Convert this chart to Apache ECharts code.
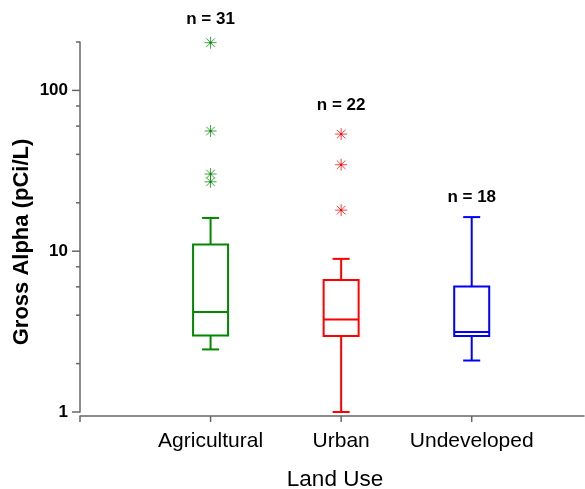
<!DOCTYPE html>
<html><head><meta charset="utf-8">
<script src="https://cdn.jsdelivr.net/npm/echarts@6/dist/echarts.min.js"></script>
<style>html,body{margin:0;padding:0;background:#fff}#c{width:585px;height:489px}</style>
</head><body><div id="c"></div>
<script>
// ---- data ----
const categories = ['Agricultural', 'Urban', 'Undeveloped'];
const sampleCounts = [31, 22, 18];
const whiskerLow = [2.45, 1.0, 2.09];
const quartile1 = [2.99, 2.97, 2.97];
const medians = [4.18, 3.76, 3.14];
const quartile3 = [11.0, 6.63, 6.03];
const whiskerHigh = [16.1, 8.96, 16.3];
const outliers = [[198, 55.9, 30.2, 27.0], [53.5, 34.5, 18.0], []];
const yMajorTicks = [1, 10, 100];
const yMinorTicks = [2, 4, 6, 8, 20, 40, 60, 80, 200];
const xTickValues = [0, 1, 2, 3];

// ---- style ----
const FONT = '"Liberation Sans", Arial, sans-serif';
const colors = ['#008800', '#ff0000', '#0000ff'];
const boxWidth = 35, capWidth = 17;
const labelOffsets = [-23, -29, -20];
const axisColor = '#666';

const boxData = categories.map((c, i) => [i + 1, whiskerLow[i], quartile1[i], medians[i], quartile3[i], whiskerHigh[i], i]);
const outlierData = [];
outliers.forEach((arr, i) => arr.forEach(v => outlierData.push([i + 1, v, i])));

function renderBox(params, api) {
  const xv = api.value(0), i = api.value(6);
  const col = colors[i];
  const x = api.coord([xv, 1])[0];
  const y = k => api.coord([xv, api.value(k)])[1];
  const yLo = y(1), yQ1 = y(2), yMed = y(3), yQ3 = y(4), yHi = y(5);
  const st = {stroke: col, lineWidth: 2, fill: null};
  const hw = boxWidth / 2, cw = capWidth / 2;
  let topV = whiskerHigh[i];
  outliers[i].forEach(v => { if (v > topV) topV = v; });
  const yTop = api.coord([xv, topV])[1];
  return {type: 'group', children: [
    {type: 'rect', shape: {x: x - hw, y: yQ3, width: boxWidth, height: yQ1 - yQ3}, style: {stroke: col, lineWidth: 2, fill: 'rgba(0,0,0,0)'}},
    {type: 'line', shape: {x1: x - hw, y1: yMed, x2: x + hw, y2: yMed}, style: st},
    {type: 'line', shape: {x1: x, y1: yQ3, x2: x, y2: yHi}, style: st},
    {type: 'line', shape: {x1: x, y1: yQ1, x2: x, y2: yLo}, style: st},
    {type: 'line', shape: {x1: x - cw, y1: yHi, x2: x + cw, y2: yHi}, style: st},
    {type: 'line', shape: {x1: x - cw, y1: yLo, x2: x + cw, y2: yLo}, style: st},
    {type: 'text', style: {text: 'n = ' + sampleCounts[i], x: x, y: yTop + labelOffsets[i], align: 'center', verticalAlign: 'middle',
      font: 'bold 17px ' + FONT, fill: '#000'}}
  ]};
}

function renderOutlier(params, api) {
  const p = api.coord([api.value(0), api.value(1)]);
  const col = colors[api.value(2)];
  const r = 6, d = 4.3;
  const st = {stroke: col, lineWidth: 1, opacity: 0.75};
  return {type: 'group', children: [
    {type: 'line', shape: {x1: p[0] - r, y1: p[1], x2: p[0] + r, y2: p[1]}, style: st},
    {type: 'line', shape: {x1: p[0], y1: p[1] - r, x2: p[0], y2: p[1] + r}, style: st},
    {type: 'line', shape: {x1: p[0] - d, y1: p[1] - d, x2: p[0] + d, y2: p[1] + d}, style: st},
    {type: 'line', shape: {x1: p[0] - d, y1: p[1] + d, x2: p[0] + d, y2: p[1] - d}, style: st},
    {type: 'rect', shape: {x: p[0] - 1, y: p[1] - 1, width: 2, height: 2}, style: {fill: col}}
  ]};
}

function yTickRenderer(len) {
  return function (params, api) {
    const p = api.coord([0, api.value(0)]);
    return {type: 'line', shape: {x1: p[0] - len, y1: p[1], x2: p[0], y2: p[1]}, style: {stroke: axisColor, lineWidth: 1.5}};
  };
}
function renderXTick(params, api) {
  const p = api.coord([api.value(0), 1]);
  return {type: 'line', shape: {x1: p[0], y1: p[1] + 4, x2: p[0], y2: p[1] + 10}, style: {stroke: axisColor, lineWidth: 1.5}};
}

const chart = echarts.init(document.getElementById('c'), null, {renderer: 'canvas'});
chart.setOption({
  animation: false,
  backgroundColor: '#fff',
  grid: {left: 80, right: 1, top: 42, bottom: 77},
  xAxis: {
    type: 'value', min: 0, max: 3.86, interval: 1, offset: 4,
    axisLine: {show: true, lineStyle: {color: axisColor, width: 1.5}},
    axisTick: {show: false}, splitLine: {show: false},
    axisLabel: {
      margin: 15, color: '#000', fontSize: 21, fontFamily: FONT,
      showMaxLabel: false,
      formatter: v => { const k = Math.round(v); return (Math.abs(v - k) < 1e-6 && k >= 1 && k <= categories.length) ? categories[k - 1] : ''; }
    }
  },
  yAxis: {
    type: 'log', logBase: 10, min: 1, max: 200,
    axisLine: {show: true, lineStyle: {color: axisColor, width: 1.5}},
    axisTick: {show: false}, splitLine: {show: false}, minorTick: {show: false},
    axisLabel: {
      margin: 12, color: '#000', fontSize: 17, fontWeight: 'bold', fontFamily: FONT,
      formatter: v => { const r = Math.round(v); return yMajorTicks.indexOf(r) >= 0 && Math.abs(v - r) < 1e-6 * r ? String(r) : ''; }
    }
  },
  graphic: [
    {type: 'text', x: 22, y: 242, rotation: Math.PI / 2,
      style: {text: 'Gross Alpha (pCi/L)', align: 'center', verticalAlign: 'middle', font: 'bold 22px ' + FONT, fill: '#000'}},
    {type: 'text', x: 335, y: 480,
      style: {text: 'Land Use', align: 'center', verticalAlign: 'middle', font: '22.5px ' + FONT, fill: '#000'}}
  ],
  series: [
    {type: 'custom', clip: false, renderItem: yTickRenderer(8), data: yMajorTicks.map(v => [v]), encode: {y: 0}},
    {type: 'custom', clip: false, renderItem: yTickRenderer(4), data: yMinorTicks.map(v => [v]), encode: {y: 0}},
    {type: 'custom', clip: false, renderItem: renderXTick, data: xTickValues.map(v => [v]), encode: {x: 0}},
    {type: 'custom', clip: false, renderItem: renderBox, data: boxData, encode: {x: 0, y: [1, 5]}},
    {type: 'custom', clip: false, renderItem: renderOutlier, data: outlierData, encode: {x: 0, y: 1}}
  ]
});
</script></body></html>
